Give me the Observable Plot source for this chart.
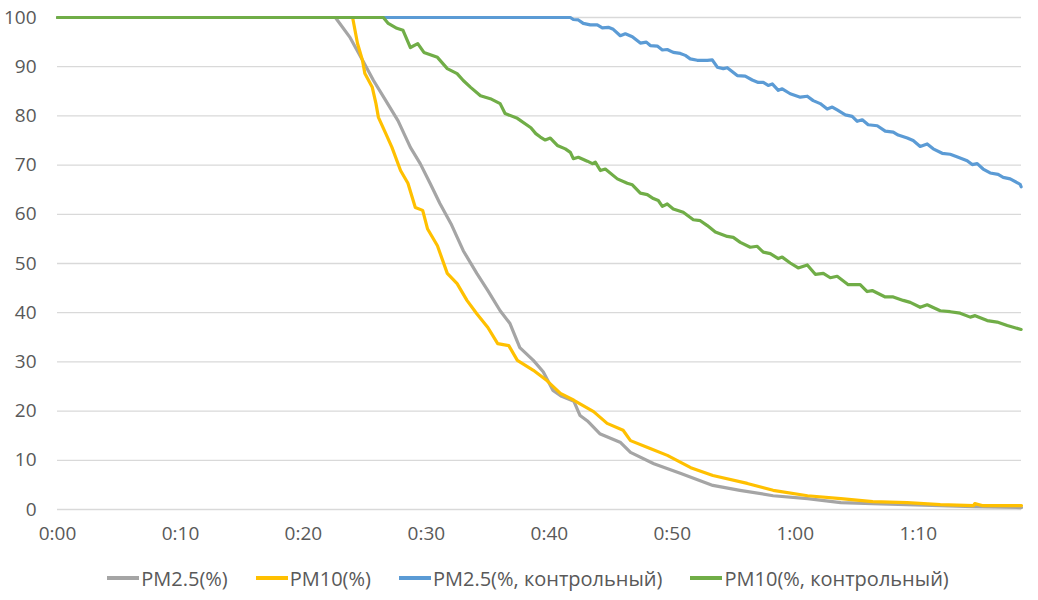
<!DOCTYPE html>
<html>
<head>
<meta charset="utf-8">
<script src="https://cdn.jsdelivr.net/npm/d3@7"></script>
<script src="https://cdn.jsdelivr.net/npm/@observablehq/plot@0.6"></script>
<style>
  html, body { margin: 0; padding: 0; background: #fff; }
  #wrap { width: 1038px; font-family: "Open Sans", sans-serif; color: #595959; }
  #legend { display: flex; justify-content: center; align-items: center; height: 36px; font-size: 20px; padding-left: 18px; }
  .item { display: flex; align-items: center; margin: 0 14px; }
  .sw { width: 32px; height: 4px; margin-right: 2px; }
</style>
</head>
<body>
<div id="wrap">
  <div id="chart"></div>
  <div id="legend"></div>
</div>
<script>
// Time in minutes, values in %
const seriesNames = ["PM2.5(%)", "PM10(%)", "PM2.5(%, контрольный)", "PM10(%, контрольный)"];
const seriesColors = ["#A5A5A5", "#FFC000", "#5B9BD5", "#70AD47"];

const pm25T = [0, 22.6, 23.8, 24.9, 25.7, 26.7, 27.7, 28.7, 29.5, 30.3, 31.1, 32.0, 33.0, 34.1, 35.0, 36.0, 36.8, 37.6, 38.7, 39.5, 40.3, 41.0, 42.0, 42.5, 43.1, 44.1, 45.8, 46.6, 48.5, 50.7, 53.3, 55.5, 58.2, 61.0, 63.7, 66.3, 69.1, 71.8, 74.5, 78.4];
const pm25V = [100, 100, 95.9, 90.9, 87.2, 83.1, 79.0, 73.6, 70.3, 66.3, 62.2, 58.1, 52.6, 48.0, 44.5, 40.4, 37.8, 32.9, 30.3, 28.0, 24.2, 23.0, 22.0, 19.1, 18.0, 15.4, 13.6, 11.6, 9.3, 7.3, 4.9, 3.9, 2.8, 2.2, 1.4, 1.2, 1.0, 0.8, 0.6, 0.4];

const pm10T = [0, 24.0, 24.4, 24.8, 25.0, 25.6, 25.9, 26.1, 26.7, 27.2, 27.9, 28.5, 29.1, 29.7, 30.1, 30.9, 31.7, 32.5, 33.3, 34.1, 35.0, 35.8, 36.7, 37.4, 38.7, 39.8, 40.9, 42.0, 43.6, 44.7, 46.0, 46.6, 48.2, 49.6, 51.5, 53.3, 56.1, 58.2, 61.0, 63.7, 66.3, 69.1, 71.8, 74.5, 74.6, 75.2, 78.4];
const pm10V = [100, 100, 94.7, 91.3, 88.6, 85.8, 82.5, 79.7, 76.4, 73.6, 68.9, 66.3, 61.4, 60.8, 57.0, 53.6, 48.0, 45.9, 42.5, 39.8, 37.0, 33.7, 33.3, 30.3, 28.3, 26.2, 23.6, 22.2, 19.9, 17.5, 16.1, 14.0, 12.4, 11.0, 8.5, 6.9, 5.3, 3.9, 2.8, 2.2, 1.6, 1.4, 1.0, 0.8, 1.2, 0.8, 0.8];

const pm25cT = [0, 41.71, 41.95, 42.36, 42.76, 43.33, 43.90, 44.31, 44.80, 45.20, 45.77, 46.18, 46.75, 47.40, 47.89, 48.21, 48.78, 49.19, 49.59, 50.08, 50.65, 51.06, 51.46, 52.03, 52.85, 53.25, 53.66, 54.15, 54.47, 55.28, 55.93, 56.50, 56.99, 57.40, 57.80, 58.13, 58.62, 58.94, 59.59, 60.41, 60.98, 61.46, 62.03, 62.60, 63.01, 63.41, 64.07, 64.63, 65.04, 65.45, 65.93, 66.67, 67.32, 67.97, 68.37, 69.11, 69.59, 70.16, 70.73, 71.22, 71.95, 72.60, 73.25, 73.98, 74.39, 74.80, 75.28, 75.85, 76.50, 76.91, 77.48, 78.29, 78.37];
const pm25cV = [100, 100, 99.6, 99.5, 98.8, 98.5, 98.5, 97.9, 98.0, 97.6, 96.3, 96.7, 96.1, 94.8, 95.0, 94.3, 94.2, 93.4, 93.5, 92.9, 92.7, 92.3, 91.6, 91.3, 91.3, 91.4, 89.9, 89.6, 89.8, 88.2, 88.1, 87.3, 86.8, 86.8, 86.2, 86.5, 85.2, 85.5, 84.5, 83.8, 84.0, 83.1, 82.5, 81.4, 81.8, 81.2, 80.2, 79.9, 78.9, 79.2, 78.2, 78.0, 76.9, 76.7, 76.1, 75.5, 75.0, 73.8, 74.3, 73.3, 72.4, 72.2, 71.6, 70.9, 70.1, 70.3, 69.2, 68.4, 68.1, 67.5, 67.2, 66.1, 65.6];

const pm10cT = [0, 26.5, 26.9, 27.6, 28.1, 28.7, 29.3, 29.8, 30.9, 31.7, 32.5, 33.0, 33.6, 34.4, 35.2, 36.0, 36.4, 37.4, 38.5, 38.9, 39.27, 39.67, 40.08, 40.65, 41.30, 41.71, 41.95, 42.36, 43.09, 43.50, 43.74, 44.15, 44.55, 45.53, 46.34, 46.75, 47.40, 47.97, 48.46, 48.86, 49.19, 49.59, 50.08, 50.89, 51.71, 52.28, 52.85, 53.50, 54.47, 54.96, 55.53, 56.34, 56.91, 57.40, 57.97, 58.62, 58.94, 59.59, 60.24, 60.98, 61.63, 62.28, 62.85, 63.41, 64.31, 65.28, 65.85, 66.26, 67.32, 67.97, 68.78, 69.35, 70.16, 70.73, 71.79, 72.60, 73.41, 74.23, 74.63, 75.61, 76.42, 77.24, 78.37];
const pm10cV = [100, 100, 98.8, 97.8, 97.4, 93.9, 94.7, 92.9, 91.9, 89.6, 88.6, 87.2, 85.8, 84.1, 83.5, 82.5, 80.5, 79.5, 77.6, 76.4, 75.7, 75.1, 75.5, 74.0, 73.3, 72.6, 71.3, 71.6, 70.8, 70.3, 70.6, 68.9, 69.2, 67.2, 66.3, 66.0, 64.3, 64.0, 63.2, 62.8, 61.6, 62.1, 61.1, 60.4, 58.9, 58.7, 57.7, 56.4, 55.5, 55.3, 54.3, 53.3, 53.5, 52.3, 52.0, 51.0, 51.3, 50.1, 49.1, 49.7, 47.8, 48.0, 47.1, 47.4, 45.7, 45.7, 44.3, 44.5, 43.2, 43.2, 42.5, 42.1, 41.1, 41.6, 40.4, 40.2, 39.9, 39.1, 39.4, 38.4, 38.1, 37.4, 36.6];

const xTicks = [0, 10, 20, 30, 40, 50, 60, 70];
const yTicks = [0, 10, 20, 30, 40, 50, 60, 70, 80, 90, 100];

const allT = [pm25T, pm10T, pm25cT, pm10cT];
const allV = [pm25V, pm10V, pm25cV, pm10cV];
const series = allT.map((ts, i) => ts.map((t, j) => ({t, v: allV[i][j]})));

const fmt = m => `${Math.floor(m / 60)}:${String(m % 60).padStart(2, "0")}`;

const chart = Plot.plot({
  width: 1038,
  height: 560,
  marginLeft: 57,
  marginRight: 17,
  marginTop: 17,
  marginBottom: 51,
  style: { fontFamily: "Open Sans, sans-serif", fontSize: "19px", color: "#595959", background: "#fff" },
  x: { domain: [0, 78.4] },
  y: { domain: [0, 100] },
  marks: [
    Plot.gridY(yTicks, { stroke: "#d9d9d9", strokeOpacity: 1, strokeWidth: 1.3 }),
    Plot.axisY(yTicks, { tickSize: 0, tickPadding: 21, label: null, fill: "#595959" }),
    Plot.axisX(xTicks, { tickSize: 0, tickPadding: 17, label: null, tickFormat: fmt, fill: "#595959" }),
    ...series.map((d, i) => Plot.line(d, { x: "t", y: "v", stroke: seriesColors[i], strokeWidth: 3.2, strokeLinejoin: "round" }))
  ]
});
document.getElementById("chart").appendChild(chart);

const legend = document.getElementById("legend");
seriesNames.forEach((n, i) => {
  const it = document.createElement("div");
  it.className = "item";
  const sw = document.createElement("span");
  sw.className = "sw";
  sw.style.background = seriesColors[i];
  const tx = document.createElement("span");
  tx.textContent = n;
  it.appendChild(sw);
  it.appendChild(tx);
  legend.appendChild(it);
});
</script>
</body>
</html>
